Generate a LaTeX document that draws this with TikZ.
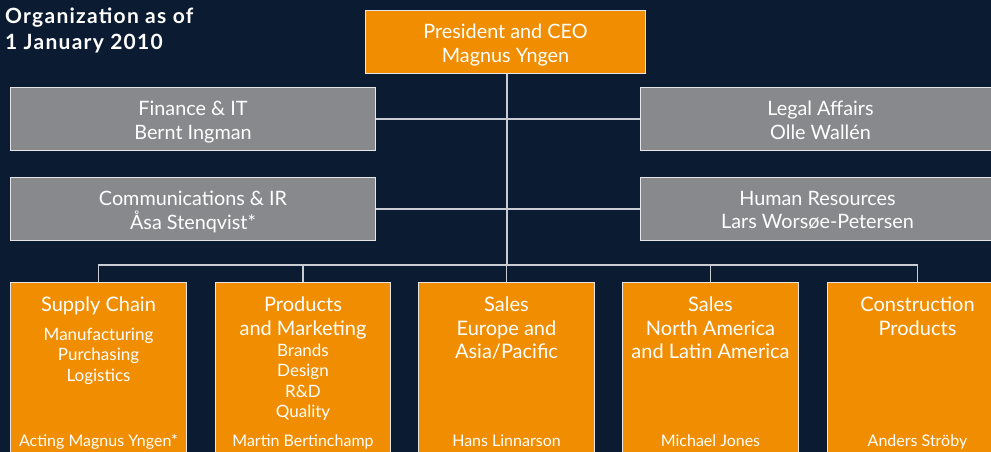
\documentclass[tikz,border=0pt]{standalone}
\usepackage{fontspec}
\setmainfont{Lato}
\usetikzlibrary{calc}

\definecolor{navy}{HTML}{0B1C32}
\definecolor{amber}{HTML}{F08D00}
\definecolor{slate}{HTML}{88898D}
\definecolor{edge}{HTML}{E6E6E6}
\definecolor{wire}{HTML}{C9CDD3}

\newcommand\orgTop{\fontsize{19.8}{23.5}\selectfont}
\newcommand\orgHead{\fontsize{20}{23.5}\selectfont}
\newcommand\orgItem{\fontsize{17}{20.5}\selectfont}
\newcommand\orgName{\fontsize{16}{19}\selectfont}
\newcommand\orgTitle{\fontsize{21}{26.7}\selectfont\bfseries\addfontfeatures{LetterSpace=6}}

\begin{document}
\begin{tikzpicture}[x=1pt,y=-1pt,
  frame/.style={draw=edge, line width=1pt, inner sep=0pt, anchor=north west},
  amberbox/.style={frame, fill=amber},
  slatebox/.style={frame, fill=slate, minimum height=63pt},
  ceobox/.style={frame, fill=amber, minimum height=63pt},
  toptxt/.style={text=white, align=center, inner sep=0pt, font=\orgTop},
  unitbox/.style={amberbox, minimum height=175pt},
  headtxt/.style={text=white, align=center, inner sep=0pt, anchor=base, font=\orgHead},
  itemtxt/.style={text=white, align=center, inner sep=0pt, anchor=base, font=\orgItem},
  nametxt/.style={text=white, align=center, inner sep=0pt, anchor=base, font=\orgName},
  link/.style={draw=wire, line width=1.1pt}
]
% canvas
\fill[navy] (0,0) rectangle (991,452);
\useasboundingbox (0,0) rectangle (991,452);

% heading (base anchor sits on the last line)
\node[text=white, align=left, inner sep=0pt, anchor=base west, font=\orgTitle] (title) at (5,50)
  {Organization as of\\1 January 2010};

% management and staff functions
\node[ceobox, minimum width=280pt] (ceo) at (365,10) {};
\node[slatebox, minimum width=365pt] (fin) at (10,87) {};
\node[slatebox, minimum width=365pt] (com) at (10,177) {};
\node[slatebox, minimum width=360pt] (leg) at (640,87) {};
\node[slatebox, minimum width=360pt] (hr) at (640,177) {};

\node[toptxt] (ceoT) at ($(ceo.center)+(0,3)$) {President and CEO\\Magnus Yngen};
\node[toptxt] (finT) at ($(fin.center)+(0,3)$) {Finance \& IT\\Bernt Ingman};
\node[toptxt] (comT) at ($(com.center)+(0,3)$) {Communications \& IR\\Åsa Stenqvist*};
\node[toptxt] (legT) at ($(leg.center)+(0,1.5)$) {Legal Affairs\\Olle Wallén};
\node[toptxt] (hrT) at ($(hr.center)+(-3,1.5)$) {Human Resources\\Lars Worsøe-Petersen};

% business areas
\node[unitbox, minimum width=176pt] (sc) at (10,282) {};
\node[unitbox, minimum width=175pt] (pm) at (215,282) {};
\node[unitbox, minimum width=176pt] (se) at (418,282) {};
\node[unitbox, minimum width=176pt] (na) at (622,282) {};
\node[unitbox, minimum width=180pt] (cp) at (827,282) {};

% texts: each node is placed by the baseline of its last line
\node[headtxt] (scH) at ($(sc.north)+(0,29.5)$) {Supply Chain};
\node[itemtxt] (scI) at ($(sc.north)+(0,99)$) {Manufacturing\\Purchasing\\Logistics};
\node[nametxt] (scN) at ($(sc.north)+(0,164)$) {Acting Magnus Yngen*};

\node[headtxt] (pmH) at ($(pm.north)+(0,53)$) {Products\\and Marketing};
\node[itemtxt] (pmI) at ($(pm.north)+(0,135.5)$) {Brands\\Design\\R\&D\\Quality};
\node[nametxt] (pmN) at ($(pm.north)+(0,164)$) {Martin Bertinchamp};

\node[headtxt] (seH) at ($(se.north)+(0,76.5)$) {Sales\\Europe and\\Asia/Pacific};
\node[nametxt] (seN) at ($(se.north)+(0,164)$) {Hans Linnarson};

\node[headtxt] (naH) at ($(na.north)+(0,76.5)$) {Sales\\North America\\and Latin America};
\node[nametxt] (naN) at ($(na.north)+(0,164)$) {Michael Jones};

\node[headtxt] (cpH) at ($(cp.north)+(0,53)$) {Construction\\Products};
\node[nametxt] (cpN) at ($(cp.north)+(0,164)$) {Anders Ströby};

% connectors
\coordinate (trunk) at (507,265);
\draw[link] (ceo.south -| trunk) -- (trunk);
\draw[link] (fin.east) -- (leg.west);
\draw[link] (com.east) -- (hr.west);
\draw[link] (sc.north) -- (sc.north |- trunk) -- (cp.north |- trunk) -- (cp.north);
\draw[link] (pm.north) -- (pm.north |- trunk);
\draw[link] (se.north) -- (se.north |- trunk);
\draw[link] (na.north) -- (na.north |- trunk);
\end{tikzpicture}
\end{document}
